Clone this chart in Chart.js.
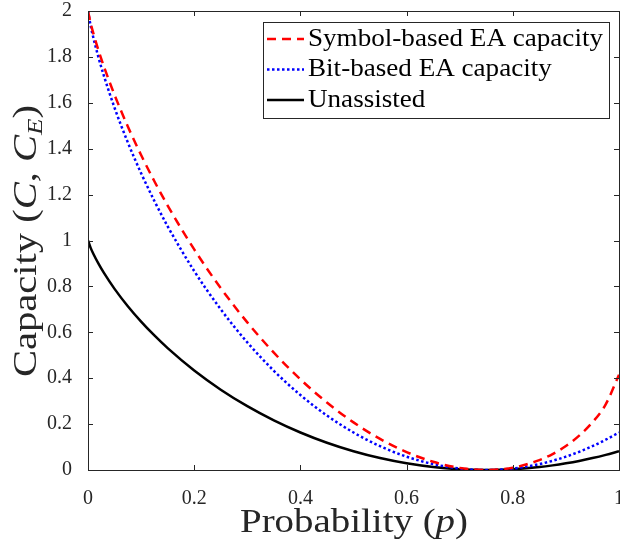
<!DOCTYPE html>
<html>
<head>
<meta charset="utf-8">
<script src="https://cdn.jsdelivr.net/npm/chart.js@4/dist/chart.umd.min.js"></script>
<style>
  body { margin: 0; background: #fff; }
</style>
</head>
<body>
<canvas id="capChart" width="620" height="542"></canvas>
<script>
// probability values p and the three capacity curves
const pValues = [0, 0.005, 0.01, 0.02, 0.03, 0.05, 0.075, 0.1, 0.125, 0.15, 0.2, 0.25, 0.3, 0.35, 0.4, 0.45, 0.5, 0.55, 0.6, 0.65, 0.7, 0.75, 0.8, 0.85, 0.875, 0.9, 0.925, 0.95, 0.975, 1];
const symbolEA = [2, 1.9467, 1.9034, 1.8269, 1.7581, 1.6344, 1.4968, 1.3725, 1.2583, 1.1524, 0.9611, 0.7925, 0.6432, 0.5112, 0.3951, 0.2940, 0.2075, 0.1355, 0.0781, 0.0357, 0.0092, 0, 0.0101, 0.0429, 0.0696, 0.1045, 0.1496, 0.2079, 0.2860, 0.4150];
const bitEA = [2, 1.9355, 1.8844, 1.7957, 1.7171, 1.5783, 1.4272, 1.2933, 1.1724, 1.0620, 0.8670, 0.7000, 0.5561, 0.4324, 0.3267, 0.2374, 0.1634, 0.1038, 0.0581, 0.0257, 0.0064, 0, 0.0064, 0.0257, 0.0403, 0.0581, 0.0793, 0.1038, 0.1319, 0.1634];
const unassisted = [1, 0.9678, 0.9422, 0.8978, 0.8586, 0.7892, 0.7136, 0.6466, 0.5862, 0.5310, 0.4335, 0.3500, 0.2781, 0.2162, 0.1634, 0.1187, 0.0817, 0.0519, 0.0291, 0.0129, 0.0032, 0, 0.0032, 0.0129, 0.0201, 0.0291, 0.0396, 0.0519, 0.0659, 0.0817];

const seriesLabels = ['Symbol-based EA capacity', 'Bit-based EA capacity', 'Unassisted'];

const xTicks = [0, 0.2, 0.4, 0.6, 0.8, 1];
const xTickLabels = ['0', '0.2', '0.4', '0.6', '0.8', '1'];
const yTicks = [0, 0.2, 0.4, 0.6, 0.8, 1, 1.2, 1.4, 1.6, 1.8, 2];
const yTickLabels = ['0', '0.2', '0.4', '0.6', '0.8', '1', '1.2', '1.4', '1.6', '1.8', '2'];

const SERIF = '"Liberation Serif", "DejaVu Serif", serif';
const AXIS_COLOR = '#262626';

const toPoints = (ys) => pValues.map((p, i) => ({ x: p, y: ys[i] }));

// box round the plot and inward ticks on all four sides (MATLAB style)
const boxPlugin = {
    id: 'boxTicks',
    afterDatasetsDraw(chart) {
        const { ctx, chartArea: a, scales } = chart;
        ctx.save();
        ctx.strokeStyle = AXIS_COLOR;
        ctx.lineWidth = 1;
        ctx.beginPath();
        xTicks.forEach(v => {
            const px = Math.round(scales.x.getPixelForValue(v)) + 0.5;
            ctx.moveTo(px, a.bottom); ctx.lineTo(px, a.bottom - 5);
            ctx.moveTo(px, a.top); ctx.lineTo(px, a.top + 5);
        });
        yTicks.forEach(v => {
            const py = Math.round(scales.y.getPixelForValue(v)) + 0.5;
            ctx.moveTo(a.left, py); ctx.lineTo(a.left + 5, py);
            ctx.moveTo(a.right, py); ctx.lineTo(a.right - 5, py);
        });
        ctx.stroke();
        ctx.strokeRect(Math.round(a.left) + 0.5, Math.round(a.top) + 0.5,
            Math.round(a.right - a.left), Math.round(a.bottom - a.top));
        ctx.restore();
    }
};

// draws a run of text pieces with their own font / shift, stretched to a width
// (the original uses the wider LaTeX font)
function drawRuns(ctx, runs, cx, cy, targetW) {
    let total = 0;
    runs.forEach(r => { ctx.font = r.font; r.w = ctx.measureText(r.t).width; total += r.w; });
    const sx = targetW ? targetW / total : 1;
    ctx.save();
    ctx.translate(cx - total * sx / 2, cy);
    ctx.scale(sx, 1);
    let x = 0;
    runs.forEach(r => {
        ctx.font = r.font;
        ctx.fillText(r.t, x, r.dy || 0);
        x += r.w;
    });
    ctx.restore();
}

const titlePlugin = {
    id: 'axisTitles',
    afterDraw(chart) {
        const { ctx } = chart;
        const up = '33px ' + SERIF;
        const it = 'italic 33px ' + SERIF;
        ctx.save();
        ctx.fillStyle = AXIS_COLOR;
        ctx.textBaseline = 'alphabetic';
        ctx.textAlign = 'left';
        drawRuns(ctx, [
            { t: 'Probability (', font: up },
            { t: 'p', font: it },
            { t: ')', font: up }
        ], 354, 532, 228);

        ctx.translate(36, 241);
        ctx.rotate(-Math.PI / 2);
        drawRuns(ctx, [
            { t: 'Capacity (', font: up },
            { t: 'C', font: it },
            { t: ', ', font: up },
            { t: 'C', font: it },
            { t: 'E', font: 'italic 22px ' + SERIF, dy: 6 },
            { t: ')', font: up }
        ], 0, 0, 272);
        ctx.restore();
    }
};

// legend box inside the top right corner
const legendPlugin = {
    id: 'boxLegend',
    afterDraw(chart) {
        const { ctx } = chart;
        const x0 = 263, y0 = 22, w = 346, h = 96;
        ctx.save();
        ctx.fillStyle = '#fff';
        ctx.fillRect(x0, y0, w, h);
        ctx.strokeStyle = AXIS_COLOR;
        ctx.lineWidth = 1;
        ctx.strokeRect(x0 + 0.5, y0 + 0.5, w, h);
        ctx.font = '26px ' + SERIF;
        const sx = 295 / ctx.measureText(seriesLabels[0]).width;
        chart.data.datasets.forEach((ds, i) => {
            const y = 39 + i * 30.5;
            ctx.strokeStyle = ds.borderColor;
            ctx.lineWidth = ds.borderWidth;
            ctx.setLineDash(ds.borderDash || []);
            ctx.beginPath();
            ctx.moveTo(267, y); ctx.lineTo(304, y);
            ctx.stroke();
            ctx.setLineDash([]);
            ctx.fillStyle = '#000';
            ctx.textBaseline = 'middle';
            ctx.save();
            ctx.translate(308, y);
            ctx.scale(sx, 1);
            ctx.fillText(ds.label, 0, 0);
            ctx.restore();
        });
        ctx.restore();
    }
};

const ctx = document.getElementById('capChart');

const myChart = new Chart(ctx, {
    type: 'line',
    data: {
        datasets: [
            {
                label: seriesLabels[0],
                data: toPoints(symbolEA),
                borderColor: '#ff0000',
                borderWidth: 2.5,
                borderDash: [9, 6]
            },
            {
                label: seriesLabels[1],
                data: toPoints(bitEA),
                borderColor: '#0000ff',
                borderWidth: 2.5,
                borderDash: [2.5, 2.5]
            },
            {
                label: seriesLabels[2],
                data: toPoints(unassisted),
                borderColor: '#000000',
                borderWidth: 2.5
            }
        ]
    },
    options: {
        responsive: false,
        animation: false,
        devicePixelRatio: 1,
        layout: { padding: { left: 0, right: 1, top: 11, bottom: 0 } },
        elements: {
            point: { radius: 0 },
            line: { cubicInterpolationMode: 'monotone', fill: false }
        },
        plugins: {
            legend: { display: false },
            tooltip: { enabled: false }
        },
        scales: {
            x: {
                type: 'linear',
                min: 0,
                max: 1,
                afterBuildTicks: (s) => { s.ticks = xTicks.map(v => ({ value: v })); },
                afterFit: (s) => { s.height = 72; s.paddingLeft = 0; s.paddingRight = 0; },
                grid: { display: false },
                border: { display: false },
                ticks: {
                    padding: 9,
                    color: AXIS_COLOR,
                    font: { family: SERIF, size: 20 },
                    callback: (v, i) => xTickLabels[i]
                }
            },
            y: {
                type: 'linear',
                min: 0,
                max: 2,
                afterBuildTicks: (s) => { s.ticks = yTicks.map(v => ({ value: v })); },
                afterFit: (s) => { s.width = 88; s.paddingTop = 0; s.paddingBottom = 0; },
                grid: { display: false },
                border: { display: false },
                ticks: {
                    padding: 8,
                    color: AXIS_COLOR,
                    font: { family: SERIF, size: 20 },
                    callback: (v, i) => yTickLabels[i]
                }
            }
        }
    },
    plugins: [boxPlugin, titlePlugin, legendPlugin]
});
</script>
</body>
</html>
